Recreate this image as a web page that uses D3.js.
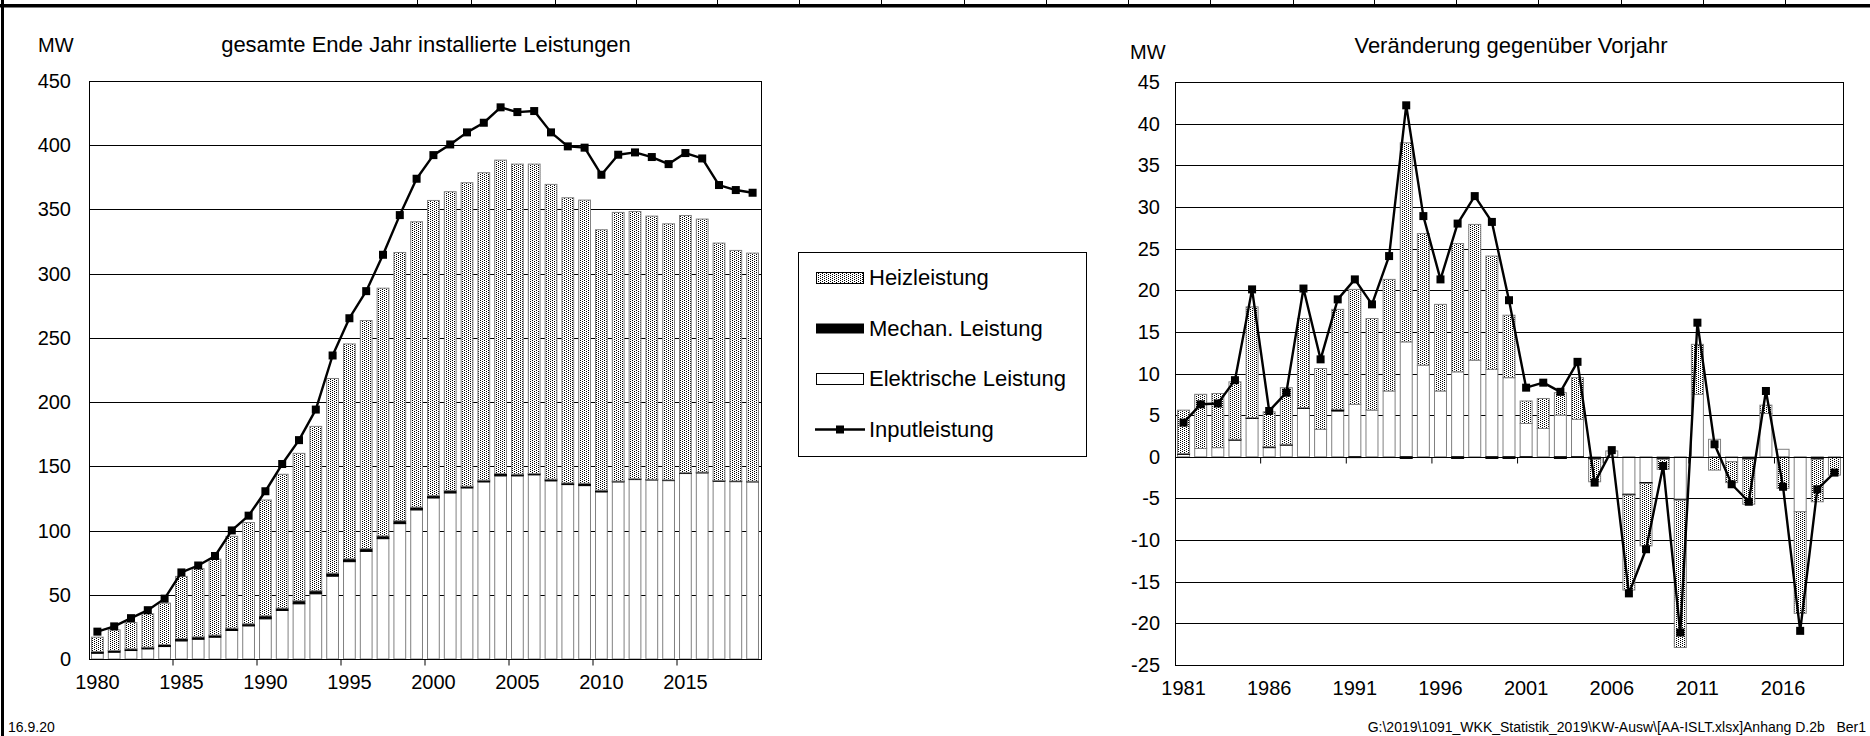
<!DOCTYPE html>
<html>
<head>
<meta charset="utf-8">
<script src="https://cdn.jsdelivr.net/npm/d3@7"></script>
<style>
  html, body { margin: 0; padding: 0; background: #fff; }
  svg text { font-family: "Liberation Sans", Arial, Helvetica, sans-serif; fill: #000; }
</style>
</head>
<body>
<svg id="c" width="1870" height="736"></svg>
<script>
// ---------------- DATA ----------------
// Left chart: installed capacity at year end (MW)
const yearsLeft = [1980,1981,1982,1983,1984,1985,1986,1987,1988,1989,
                   1990,1991,1992,1993,1994,1995,1996,1997,1998,1999,
                   2000,2001,2002,2003,2004,2005,2006,2007,2008,2009,
                   2010,2011,2012,2013,2014,2015,2016,2017,2018,2019];
const elekLeft  = [4.5,5.3,6.6,7.9,9.7,14.1,15.4,17.0,22.2,25.8,
                   31.3,37.8,43.0,50.8,64.5,75.8,83.8,93.7,105.4,116.1,
                   125.4,129.3,133.2,137.9,142.6,142.6,143.4,138.7,135.8,135.0,
                   130.1,137.9,139.7,139.4,138.9,144.4,144.9,138.4,138.1,137.9];
const mechLeft  = [1.3,1.3,1.3,1.3,1.6,1.8,1.8,1.6,1.8,1.6,
                   2.3,1.8,2.3,2.3,2.3,2.2,2.1,2.1,2.2,2.1,
                   1.8,1.8,1.3,1.3,1.8,1.3,1.0,1.3,1.3,1.8,
                   1.3,0.6,0.6,0.5,0.5,0.6,0.6,0.5,0.5,0.5];
const heizLeft  = [11.2,16.1,20.5,26.0,32.2,48.4,53.1,59.2,71.5,78.8,
                   90.2,104.2,114.8,128.0,151.6,167.3,177.6,192.9,208.9,222.2,
                   229.8,232.7,236.3,239.4,244.0,241.4,240.9,229.5,222.0,220.5,
                   202.8,209.2,208.1,204.9,199.4,200.3,197.0,184.9,179.5,177.6];
const inputLeft = [21.3,25.4,31.8,38.0,47.0,67.4,72.8,80.2,100.1,111.6,
                   130.6,151.8,170.4,194.2,236.3,265.3,286.4,314.7,345.6,373.9,
                   392.3,400.6,410.0,417.5,429.5,425.8,426.6,410.0,399.1,398.1,
                   377.0,392.6,394.4,390.8,385.3,393.9,389.7,369.0,365.1,363.0];
const yTicksLeft = [0,50,100,150,200,250,300,350,400,450];
const xLabelsLeft = [1980,1985,1990,1995,2000,2005,2010,2015];

// Right chart: change versus previous year (MW)
const yearsRight = [1981,1982,1983,1984,1985,1986,1987,1988,1989,
                    1990,1991,1992,1993,1994,1995,1996,1997,1998,1999,
                    2000,2001,2002,2003,2004,2005,2006,2007,2008,2009,
                    2010,2011,2012,2013,2014,2015,2016,2017,2018,2019];
const elekRight  = [0.3,1.0,1.1,2.0,4.6,1.1,1.4,5.8,3.3,
                    5.5,6.3,5.6,7.9,13.8,11.0,7.9,10.2,11.6,10.5,
                    9.5,4.0,3.4,5.0,4.5,-0.1,0.7,-4.5,-3.1,-0.1,
                    -5.1,7.5,2.1,-0.6,-0.2,5.2,0.9,-6.6,-0.1,-0.1];
const mechRight  = [0.1,0,0,0.1,0.1,0.1,0.1,0.1,0,
                    0.2,-0.1,0,0,-0.2,0,0,-0.2,0,-0.2,
                    -0.2,-0.05,0,-0.2,-0.05,-0.2,0,-0.1,-0.1,-0.2,
                    -0.1,0,0,0,-0.1,0,0,0,-0.2,0];
const heizRight  = [5.2,6.5,6.5,6.9,13.3,4.2,6.8,10.7,7.3,
                    12.0,13.8,11.0,13.4,23.9,15.8,10.4,15.4,16.3,13.6,
                    7.5,2.7,3.6,2.7,5.0,-2.7,0,-11.4,-7.5,-1.2,
                    -17.7,6.0,-1.6,-2.5,-5.4,1.0,-3.8,-12.2,-5.1,-2.1];
const inputRight = [4.1,6.3,6.4,9.2,20.1,5.5,7.7,20.2,11.7,
                    18.9,21.3,18.3,24.1,42.2,28.9,21.3,28.0,31.3,28.2,
                    18.8,8.3,8.9,7.8,11.4,-3.1,0.8,-16.4,-11.1,-1.1,
                    -21.1,16.1,1.5,-3.3,-5.4,7.9,-3.6,-20.9,-3.9,-1.9];
const yTicksRight = [-25,-20,-15,-10,-5,0,5,10,15,20,25,30,35,40,45];
const xLabelsRight = [1981,1986,1991,1996,2001,2006,2011,2016];

const seriesKeys = ["elek","mech","heiz"];
const legendItems = ["Heizleistung","Mechan. Leistung","Elektrische Leistung","Inputleistung"];

// ---------------- DRAWING ----------------
const svg = d3.select("#c");
svg.append("rect").attr("width",1870).attr("height",736).attr("fill","#fff");

const defs = svg.append("defs");
const pat = defs.append("pattern").attr("id","dots")
  .attr("patternUnits","userSpaceOnUse").attr("width",4).attr("height",4);
pat.append("rect").attr("width",4).attr("height",4).attr("fill","#fff");
[[0,0],[2,1],[0,2],[2,3]].forEach(([px,py]) =>
  pat.append("rect").attr("x",px).attr("y",py).attr("width",1).attr("height",1).attr("fill","#000"));

const fills = { elek: "#fff", mech: "#000", heiz: "url(#dots)" };
const strokes = { elek: "#808080", mech: "#000", heiz: "#808080" };

function drawChart(cfg) {
  const g = svg.append("g");
  const x = d3.scaleBand().domain(cfg.years).range([cfg.x0, cfg.x1])
    .paddingInner(0.3).paddingOuter(0.15);
  const y = d3.scaleLinear().domain(cfg.yDomain).range([cfg.yBot, cfg.yTop]);

  // gridlines
  g.append("g").selectAll("line").data(cfg.yTicks).join("line")
    .attr("x1", cfg.x0).attr("x2", cfg.x1)
    .attr("y1", d => Math.round(y(d)) + 0.5).attr("y2", d => Math.round(y(d)) + 0.5)
    .attr("stroke", "#000").attr("stroke-width", 1);

  // stacked bars
  const rows = cfg.years.map((yr, i) => ({ year: yr, elek: cfg.elek[i], mech: cfg.mech[i], heiz: cfg.heiz[i] }));
  const stacked = d3.stack().keys(seriesKeys).offset(d3.stackOffsetDiverging)(rows);
  stacked.forEach(layer => {
    g.append("g").selectAll("rect")
      .data(layer.filter(d => Math.abs(d[1] - d[0]) > 1e-9))
      .join("rect")
      .attr("x", d => x(d.data.year))
      .attr("width", x.bandwidth())
      .attr("y", d => y(Math.max(d[0], d[1])))
      .attr("height", d => Math.abs(y(d[0]) - y(d[1])))
      .attr("fill", fills[layer.key])
      .attr("stroke", strokes[layer.key])
      .attr("stroke-width", 1);
  });

  // category axis line (at value 0) + ticks every 5 categories
  const y0 = Math.round(y(0)) + 0.5;
  g.append("line").attr("x1", cfg.x0).attr("x2", cfg.x1).attr("y1", y0).attr("y2", y0)
    .attr("stroke", "#000").attr("stroke-width", 1.2);
  const tickYears = cfg.years.filter((d, i) => i > 0 && i % 5 === 0);
  g.append("g").selectAll("line").data(tickYears).join("line")
    .attr("x1", d => x(d) - x.step() * x.paddingInner() / 2)
    .attr("x2", d => x(d) - x.step() * x.paddingInner() / 2)
    .attr("y1", y0).attr("y2", y0 + 6)
    .attr("stroke", "#000").attr("stroke-width", 1);

  // plot frame
  g.append("rect").attr("x", cfg.x0 + 0.5).attr("y", cfg.yTop + 0.5)
    .attr("width", cfg.x1 - cfg.x0).attr("height", cfg.yBot - cfg.yTop)
    .attr("fill", "none").attr("stroke", "#000").attr("stroke-width", 1);

  // input line + markers
  const pts = cfg.years.map((yr, i) => [x(yr) + x.bandwidth() / 2, y(cfg.input[i])]);
  g.append("path").attr("d", d3.line()(pts)).attr("fill", "none")
    .attr("stroke", "#000").attr("stroke-width", 2.4).attr("stroke-linejoin", "round");
  g.append("g").selectAll("rect").data(pts).join("rect")
    .attr("x", d => d[0] - 4).attr("y", d => d[1] - 4)
    .attr("width", 8).attr("height", 8).attr("fill", "#000");

  // y labels
  g.append("g").selectAll("text").data(cfg.yTicks).join("text")
    .attr("x", cfg.yLabelX).attr("y", d => y(d))
    .attr("dy", "0.35em").attr("text-anchor", "end")
    .attr("font-size", 20).text(d => d);

  // x labels
  g.append("g").selectAll("text").data(cfg.xLabels).join("text")
    .attr("x", d => x(d) + x.bandwidth() / 2).attr("y", cfg.xLabelY)
    .attr("text-anchor", "middle").attr("font-size", 20).text(d => d);

  // unit + title
  g.append("text").attr("x", cfg.mwX).attr("y", cfg.mwY).attr("font-size", 20).text("MW");
  g.append("text").attr("x", cfg.titleX).attr("y", cfg.titleY).attr("text-anchor", "middle")
    .attr("font-size", 22).text(cfg.title);
}

drawChart({
  years: yearsLeft, elek: elekLeft, mech: mechLeft, heiz: heizLeft, input: inputLeft,
  x0: 89, x1: 761, yTop: 81, yBot: 659, yDomain: [0, 450], yTicks: yTicksLeft,
  xLabels: xLabelsLeft, yLabelX: 71, xLabelY: 689,
  mwX: 38, mwY: 52, titleX: 426, titleY: 52, title: "gesamte Ende Jahr installierte Leistungen"
});

drawChart({
  years: yearsRight, elek: elekRight, mech: mechRight, heiz: heizRight, input: inputRight,
  x0: 1175, x1: 1843, yTop: 82, yBot: 665, yDomain: [-25, 45], yTicks: yTicksRight,
  xLabels: xLabelsRight, yLabelX: 1160, xLabelY: 695,
  mwX: 1130, mwY: 59, titleX: 1511, titleY: 53, title: "Veränderung gegenüber Vorjahr"
});

// legend
const lg = svg.append("g");
lg.append("rect").attr("x", 798.5).attr("y", 252.5).attr("width", 288).attr("height", 204)
  .attr("fill", "#fff").attr("stroke", "#000").attr("stroke-width", 1);
const rowY = [278, 328.5, 379, 429.5];
lg.append("rect").attr("x", 816.5).attr("y", rowY[0] - 5.5).attr("width", 47).attr("height", 11)
  .attr("fill", "url(#dots)").attr("stroke", "#000");
lg.append("rect").attr("x", 816).attr("y", rowY[1] - 5).attr("width", 48).attr("height", 10)
  .attr("fill", "#000");
lg.append("rect").attr("x", 816.5).attr("y", rowY[2] - 5.5).attr("width", 47).attr("height", 11)
  .attr("fill", "#fff").attr("stroke", "#000");
lg.append("line").attr("x1", 815).attr("x2", 865).attr("y1", rowY[3]).attr("y2", rowY[3])
  .attr("stroke", "#000").attr("stroke-width", 2.4);
lg.append("rect").attr("x", 836).attr("y", rowY[3] - 4).attr("width", 8).attr("height", 8).attr("fill", "#000");
lg.selectAll("text.li").data(legendItems).join("text").attr("class", "li")
  .attr("x", 869).attr("y", (d, i) => rowY[i] + 7).attr("font-size", 22).text(d => d);

// page decoration (cut sheet header and border)
const deco = svg.append("g");
deco.append("rect").attr("x", 0).attr("y", 4).attr("width", 1870).attr("height", 3.5).attr("fill", "#000");
deco.append("rect").attr("x", 1).attr("y", 0).attr("width", 3).attr("height", 736).attr("fill", "#000");
const headerCols = [417, 471, 555, 636, 717, 799, 881, 964, 1046, 1128, 1210, 1293, 1374, 1456, 1538, 1621, 1703, 1785];
deco.selectAll("line").data(headerCols).join("line")
  .attr("x1", d => d + 0.5).attr("x2", d => d + 0.5).attr("y1", 0).attr("y2", 5)
  .attr("stroke", "#000").attr("stroke-width", 1);

// footer
svg.append("text").attr("x", 8).attr("y", 732).attr("font-size", 14).text("16.9.20");
svg.append("text").attr("x", 1866).attr("y", 732).attr("text-anchor", "end").attr("font-size", 14)
  .attr("xml:space", "preserve")
  .text("G:\\2019\\1091_WKK_Statistik_2019\\KW-Ausw\\[AA-ISLT.xlsx]Anhang D.2b   Ber1");
</script>
</body>
</html>
